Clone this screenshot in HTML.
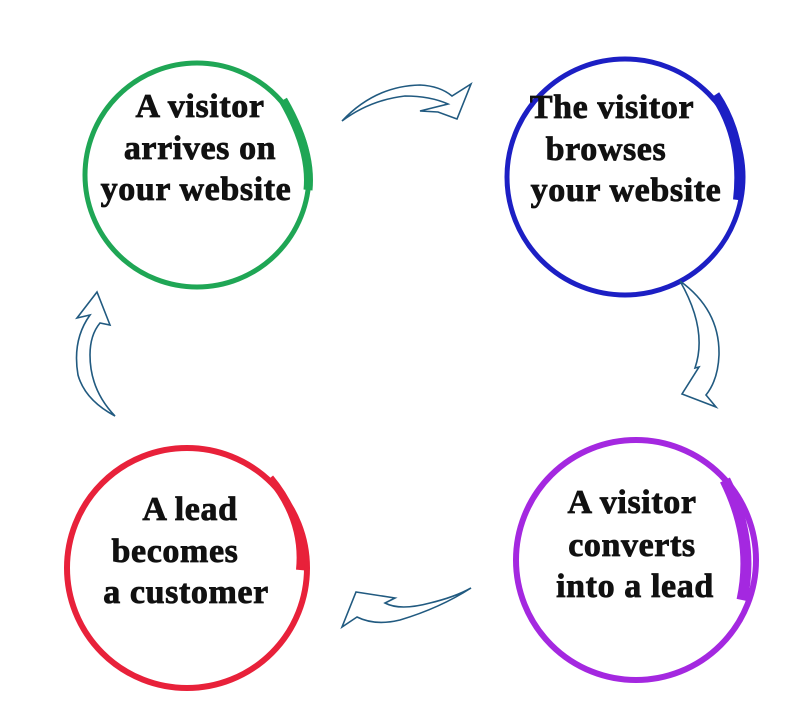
<!DOCTYPE html>
<html><head><style>
html,body{margin:0;padding:0;background:#fff;}
svg{display:block}
text{font-family:"Liberation Serif",serif;font-weight:bold;font-size:34px;fill:#111;text-anchor:middle;letter-spacing:0.6px;stroke:#111;stroke-width:0.8px}
</style></head><body>
<svg width="800" height="709" viewBox="0 0 800 709">
<!-- green -->
<circle cx="197" cy="175" r="112" fill="none" stroke="#1fa655" stroke-width="5"/>
<path d="M283 100 Q312 150 308 190" fill="none" stroke="#1fa655" stroke-width="9"/>
<text x="200" y="117">A visitor</text>
<text x="200" y="159">arrives on</text>
<text x="196" y="200">your website</text>
<!-- blue -->
<circle cx="625" cy="177" r="118" fill="none" stroke="#1c1fc4" stroke-width="5"/>
<path d="M715 95 Q745 140 738 200" fill="none" stroke="#1c1fc4" stroke-width="10"/>
<text x="612" y="118">The visitor</text>
<text x="606" y="160">browses</text>
<text x="626" y="201">your website</text>
<!-- purple -->
<circle cx="636" cy="560" r="120" fill="none" stroke="#a428e0" stroke-width="6"/>
<path d="M725 480 Q755 540 742 600" fill="none" stroke="#a428e0" stroke-width="11"/>
<text x="632" y="513">A visitor</text>
<text x="632" y="556">converts</text>
<text x="635" y="597">into a lead</text>
<!-- red -->
<circle cx="187" cy="568" r="120" fill="none" stroke="#e8213a" stroke-width="6"/>
<path d="M270 478 Q305 520 300 570" fill="none" stroke="#e8213a" stroke-width="8"/>
<text x="190" y="520">A lead</text>
<text x="175" y="562">becomes</text>
<text x="186" y="603">a customer</text>
<!-- arrows -->
<g fill="none" stroke="#215a80" stroke-width="1.6">
<path d="M342 121 Q375 86 420 85 Q440 86 452 96 L471 84 L457 119 L438 112 L420 111 L448 104 Q430 96 405 96 Q370 100 342 121 Z"/>
<path d="M680 281 Q720 310 719 355 Q718 380 706 395 L716 407 L682 394 L699 367 L695 368 Q708 330 680 281 Z"/>
<path d="M471 588 Q440 608 400 620 Q375 626 357 617 L342 627 L356 592 L395 598 L385 603 Q400 611 430 603 Q455 597 471 588 Z"/>
<path d="M115 416 Q90 390 90 355 Q90 335 100 323 L110 325 L97 292 L77 318 L90 315 Q72 340 78 375 Q85 400 115 416 Z"/>
</g>
</svg>
</body></html>
